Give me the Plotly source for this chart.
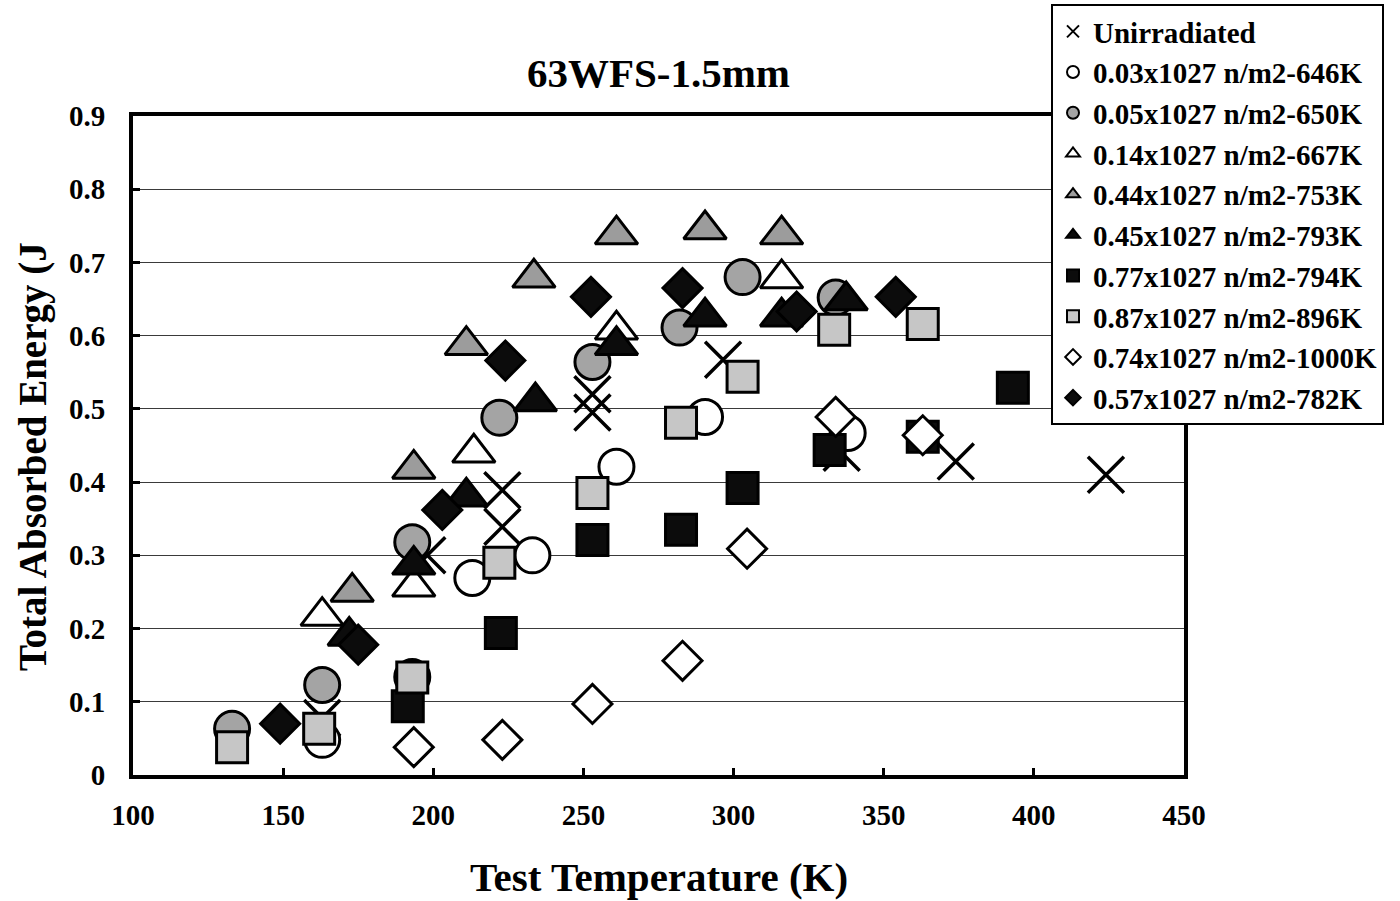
import plotly.graph_objects as go

# Charpy test results: total absorbed energy vs. test temperature
series_names = [
    "Unirradiated",
    "0.03x1027 n/m2-646K",
    "0.05x1027 n/m2-650K",
    "0.14x1027 n/m2-667K",
    "0.44x1027 n/m2-753K",
    "0.45x1027 n/m2-793K",
    "0.77x1027 n/m2-794K",
    "0.87x1027 n/m2-896K",
    "0.74x1027 n/m2-1000K",
    "0.57x1027 n/m2-782K",
]

unirr_T = [163, 198, 223, 223, 253, 253, 296.5, 336, 374, 424]
unirr_E = [0.078, 0.30, 0.389, 0.339, 0.52, 0.495, 0.567, 0.44, 0.428, 0.41]

f646_T = [163, 213, 233, 261, 290.5, 338]
f646_E = [0.048, 0.269, 0.30, 0.421, 0.489, 0.467]

f650_T = [133, 163, 193, 193, 222, 253, 282, 303, 334]
f650_E = [0.063, 0.123, 0.134, 0.318, 0.488, 0.564, 0.611, 0.680, 0.652]

f667_T = [163, 193.5, 213.5, 261, 316]
f667_E = [0.217, 0.257, 0.44, 0.608, 0.678]

f753_T = [173, 193.5, 211, 233.5, 261, 290.5, 316]
f753_E = [0.25, 0.418, 0.587, 0.679, 0.738, 0.745, 0.738]

f793_T = [172, 193.5, 211, 234, 261, 290.5, 316, 337.5]
f793_E = [0.19, 0.287, 0.38, 0.51, 0.587, 0.626, 0.626, 0.648]

f794_T = [191.5, 222.5, 253, 282.5, 303, 332, 363, 393]
f794_E = [0.094, 0.194, 0.321, 0.335, 0.392, 0.444, 0.462, 0.529]

f896_T = [133, 162, 193, 222, 253, 282.5, 303, 333.5, 363]
f896_E = [0.038, 0.063, 0.133, 0.29, 0.385, 0.481, 0.544, 0.608, 0.616]

f1000_T = [193.5, 223, 253, 283, 304.5, 334, 363]
f1000_E = [0.038, 0.048, 0.097, 0.156, 0.309, 0.489, 0.464]

f782_T = [149, 175, 203, 224, 252.5, 283, 321, 354]
f782_E = [0.070, 0.178, 0.362, 0.566, 0.653, 0.665, 0.633, 0.653]

x_ticks = [100, 150, 200, 250, 300, 350, 400, 450]
y_ticks = [0, 0.1, 0.2, 0.3, 0.4, 0.5, 0.6, 0.7, 0.8, 0.9]

FONT = "Liberation Serif"

# (x, y, symbol, size, fill, outline width) per series
styles = [
    (unirr_T, unirr_E, "x-thin", 36, "black", 3.5),
    (f646_T, f646_E, "circle", 35, "white", 3),
    (f650_T, f650_E, "circle", 35, "#a4a4a4", 3),
    (f667_T, f667_E, "triangle-up", 37, "white", 3),
    (f753_T, f753_E, "triangle-up", 37, "#9c9c9c", 3),
    (f793_T, f793_E, "triangle-up", 37, "#0c0c0c", 3),
    (f794_T, f794_E, "square", 31, "#0c0c0c", 3),
    (f896_T, f896_E, "square", 31, "#c6c6c6", 3),
    (f1000_T, f1000_E, "diamond", 30, "white", 3),
    (f782_T, f782_E, "diamond", 30, "#0c0c0c", 3),
]

fig = go.Figure()
for name, (xs, ys, sym, sz, fill, lw) in zip(series_names, styles):
    fig.add_trace(go.Scatter(
        x=xs, y=ys, mode="markers", name=f"<b>{name}</b>",
        marker=dict(symbol=sym, size=sz, color=fill,
                    line=dict(color="black", width=lw)),
    ))

L, R, T, B = 133, 1184, 116, 775
W, H = 1400, 901

axis_common = dict(
    showline=True, linecolor="black", linewidth=4, mirror=True,
    ticks="inside", ticklen=7, tickwidth=3, tickcolor="black",
    tickfont=dict(family=FONT, size=29, color="black"),
    zeroline=False,
)

fig.update_xaxes(range=[100, 450], tickvals=x_ticks,
                 ticktext=[f"<b>{v}</b>" for v in x_ticks],
                 showgrid=False, ticklabelstandoff=11, **axis_common)
fig.update_yaxes(range=[0, 0.9], tickvals=y_ticks,
                 ticktext=[f"<b>{v:g}</b>" for v in y_ticks],
                 showgrid=True, gridcolor="#3a3a3a", gridwidth=1.2,
                 ticklabelstandoff=18, **axis_common)

fig.update_layout(
    width=W, height=H,
    margin=dict(l=L, r=W - R, t=T, b=H - B, pad=0, autoexpand=False),
    paper_bgcolor="white", plot_bgcolor="white",
    title=dict(text="<b>63WFS-1.5mm</b>", x=(L + R) / 2 / W, xanchor="center",
               y=1 - 73 / H, yanchor="middle",
               font=dict(family=FONT, size=41, color="black")),
    legend=dict(
        x=(1051 - L) / (R - L), xanchor="left",
        y=(B - 4) / (B - T), yanchor="top",
        bgcolor="white", bordercolor="black", borderwidth=2,
        font=dict(family=FONT, size=29, color="black"),
        itemsizing="constant",
    ),
    font=dict(family=FONT, color="black"),
    annotations=[
        dict(text="<b>Test Temperature (K)</b>", xref="paper", yref="paper",
             x=0.5, y=(B - 877) / (B - T), xanchor="center", yanchor="middle",
             showarrow=False, font=dict(family=FONT, size=41, color="black")),
        dict(text="<b>Total Absorbed Energy (J</b>", xref="paper", yref="paper",
             x=(33 - L) / (R - L), y=(B - 457) / (B - T), textangle=-90,
             xanchor="center", yanchor="middle", showarrow=False,
             font=dict(family=FONT, size=39, color="black")),
    ],
)

fig.write_html("out.html")
